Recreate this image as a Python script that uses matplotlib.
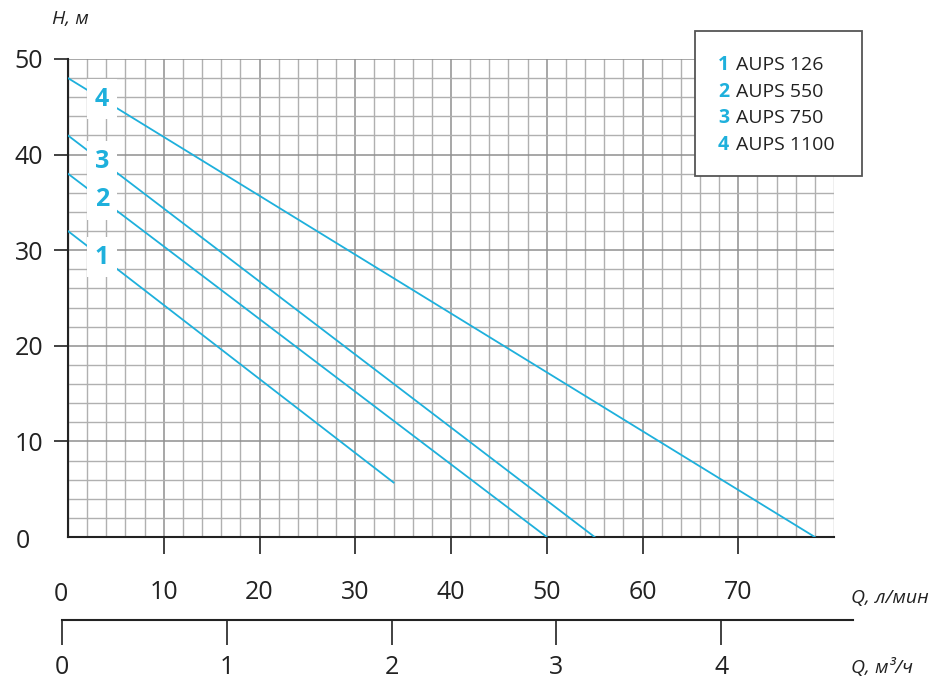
import numpy as np
import matplotlib.pyplot as plt
from matplotlib.ticker import MultipleLocator, FixedLocator
from matplotlib.patches import Rectangle

plt.rcParams['font.family'] = ['Open Sans', 'DejaVu Sans']

# pump curves: flow Q (l/min) vs head H (m)
names = ['AUPS 126', 'AUPS 550', 'AUPS 750', 'AUPS 1100']
q_curves = [[0, 34], [0, 50], [0, 55], [0, 78]]
h_curves = [[32, 5.7], [38, 0], [42, 0], [48, 0]]

h_ticks = [10, 20, 30, 40, 50]
q_ticks = [10, 20, 30, 40, 50, 60, 70]
m3h_ticks = [0, 1, 2, 3, 4]

cyan = '#1eb0dc'
dark = '#222222'

fig = plt.figure(figsize=(9.31, 6.82), dpi=100)
W, H = 931, 682

ax = fig.add_axes([68 / W, 1 - 537 / H, (834 - 68) / W, (537 - 59) / H])
ax.set_xlim(0, 80)
ax.set_ylim(0, 50)

ax.xaxis.set_major_locator(FixedLocator(q_ticks))
ax.yaxis.set_major_locator(FixedLocator(h_ticks))
ax.xaxis.set_minor_locator(MultipleLocator(2))
ax.yaxis.set_minor_locator(MultipleLocator(2))
ax.grid(which='minor', color='#b0b0b0', lw=1)
ax.grid(which='major', color='#8f8f8f', lw=1.1)
ax.set_axisbelow(True)
ax.tick_params(which='minor', length=0)
ax.tick_params(axis='x', which='major', length=12, width=1.3, color='#333333',
               labelsize=18, labelcolor=dark, pad=19)
ax.tick_params(axis='y', which='major', length=10, width=1.3, color='#333333',
               labelsize=18, labelcolor=dark, pad=8)
for s in ['top', 'right']:
    ax.spines[s].set_visible(False)
for s in ['left', 'bottom']:
    ax.spines[s].set_linewidth(1.5)
    ax.spines[s].set_color('#222222')

# zero labels (no tick marks at origin)
ax.text(-0.7, -6.0, '0', fontsize=18, color=dark, ha='center', va='center', clip_on=False)
ax.text(-4.0, -0.5, '0', fontsize=18, color=dark, ha='right', va='center', clip_on=False)

for i in range(len(names)):
    ax.plot(q_curves[i], h_curves[i], color=cyan, lw=1.3, zorder=3)
    lq = 3.55
    lh = np.interp(lq, q_curves[i], h_curves[i])
    ax.text(lq, lh, str(i + 1), color=cyan, fontsize=18, fontweight='bold',
            ha='center', va='center', zorder=4,
            bbox=dict(boxstyle='square,pad=0.3', fc='white', ec='none'))

fig.text(52 / W, 1 - 19 / H, 'H, м', fontsize=14, style='italic', color=dark,
         ha='left', va='center')
fig.text(851 / W, 1 - 598 / H, 'Q, л/мин', fontsize=14, style='italic', color=dark,
         ha='left', va='center')
fig.text(851 / W, 1 - 668 / H, 'Q, м³/ч', fontsize=14, style='italic', color=dark,
         ha='left', va='center')

# second flow scale in m3/h
ax2 = fig.add_axes([62 / W, 1 - 620 / H, (853 - 62) / W, 0.001])
ax2.set_xlim(0, 4.8)
ax2.set_yticks([])
ax2.set_xticks(m3h_ticks)
ax2.patch.set_visible(False)
for s in ['top', 'right', 'left']:
    ax2.spines[s].set_visible(False)
ax2.spines['bottom'].set_linewidth(1.5)
ax2.spines['bottom'].set_color('#222222')
ax2.tick_params(axis='x', length=18, width=1.3, color='#333333', labelsize=18,
                labelcolor=dark, pad=7)

# legend box
fig.patches.append(Rectangle((695 / W, 1 - 176 / H), (862 - 695) / W, (176 - 31) / H,
                             transform=fig.transFigure, fc='white', ec='#555555',
                             lw=1.3, zorder=5))
for i in range(len(names)):
    y = 1 - (65 + i * 26.7) / H
    fig.text(718 / W, y, str(i + 1), color=cyan, fontsize=14, fontweight='bold',
             ha='left', va='center', zorder=6)
    fig.text(736 / W, y, names[i], color=dark, fontsize=14,
             ha='left', va='center', zorder=6)

fig.savefig('out.png', dpi=100)
